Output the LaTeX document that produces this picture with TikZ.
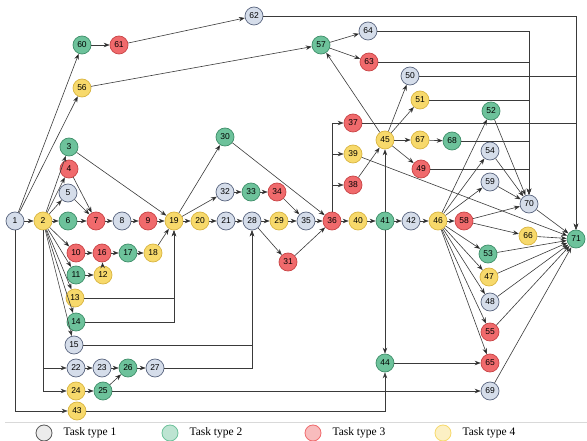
\documentclass[tikz,border=0pt]{standalone}
\usepackage{fontspec}
\setmainfont{Liberation Serif}
\setsansfont{Liberation Sans}
\usepackage{xcolor}
\definecolor{tone}{HTML}{D5DDEA}
\definecolor{tonedraw}{HTML}{5B6680}
\definecolor{ttwo}{HTML}{6DC29B}
\definecolor{ttwodraw}{HTML}{3F8F6A}
\definecolor{tthree}{HTML}{F06A6C}
\definecolor{tthreedraw}{HTML}{C94446}
\definecolor{tfour}{HTML}{F7D96B}
\definecolor{tfourdraw}{HTML}{D9B541}
\definecolor{wire}{HTML}{3A3A3A}
\usetikzlibrary{arrows.meta}

\begin{document}
\begin{tikzpicture}[x=1pt,y=-1pt,font=\sffamily,
  task/.style={circle,minimum size=18pt,inner sep=0pt,line width=0.7pt,
    font=\sffamily\fontsize{8.5}{9}\selectfont},
  tkone/.style={task,fill=tone,draw=tonedraw},
  tktwo/.style={task,fill=ttwo,draw=ttwodraw},
  tkthree/.style={task,fill=tthree,draw=tthreedraw},
  tkfour/.style={task,fill=tfour,draw=tfourdraw},
  arr/.style={draw=wire,line width=0.6pt,-{Stealth[length=6pt,width=4.5pt]}},
  keydot/.style={circle,minimum size=16pt,inner sep=0pt,line width=0.8pt},
  keytext/.style={anchor=west,font=\rmfamily\fontsize{11.5}{12}\selectfont}]
  \useasboundingbox (0,0) rectangle (587,441);
  % Tasks, coloured by type.
  \node[tkone]   (t1)  at (15,221)  {1};
  \node[tkfour]  (t2)  at (43,221)  {2};
  \node[tktwo]   (t3)  at (69,147)  {3};
  \node[tkthree] (t4)  at (69,169)  {4};
  \node[tkone]   (t5)  at (68,193)  {5};
  \node[tktwo]   (t6)  at (68,221)  {6};
  \node[tkthree] (t7)  at (96,221)  {7};
  \node[tkone]   (t8)  at (122,221) {8};
  \node[tkthree] (t9)  at (148,221) {9};
  \node[tkthree] (t10) at (76,253)  {10};
  \node[tktwo]   (t11) at (76,275)  {11};
  \node[tkfour]  (t12) at (103,275) {12};
  \node[tkfour]  (t13) at (75,298)  {13};
  \node[tktwo]   (t14) at (76,322)  {14};
  \node[tkone]   (t15) at (74,345)  {15};
  \node[tkthree] (t16) at (102,253) {16};
  \node[tktwo]   (t17) at (128,253) {17};
  \node[tkfour]  (t18) at (153,253) {18};
  \node[tkfour]  (t19) at (174,221) {19};
  \node[tkfour]  (t20) at (200,221) {20};
  \node[tkone]   (t21) at (226,221) {21};
  \node[tkone]   (t22) at (76,368)  {22};
  \node[tkone]   (t23) at (102,368) {23};
  \node[tkfour]  (t24) at (76,391)  {24};
  \node[tktwo]   (t25) at (103,391) {25};
  \node[tktwo]   (t26) at (128,368) {26};
  \node[tkone]   (t27) at (155,368) {27};
  \node[tkone]   (t28) at (252,221) {28};
  \node[tkfour]  (t29) at (279,221) {29};
  \node[tktwo]   (t30) at (225,137) {30};
  \node[tkthree] (t31) at (288,262) {31};
  \node[tkone]   (t32) at (225,192) {32};
  \node[tktwo]   (t33) at (251,192) {33};
  \node[tkthree] (t34) at (277,192) {34};
  \node[tkone]   (t35) at (306,221) {35};
  \node[tkthree] (t36) at (332,221) {36};
  \node[tkthree] (t37) at (353,123) {37};
  \node[tkthree] (t38) at (353,185) {38};
  \node[tkfour]  (t39) at (353,154) {39};
  \node[tkfour]  (t40) at (358,221) {40};
  \node[tktwo]   (t41) at (385,221) {41};
  \node[tkone]   (t42) at (411,221) {42};
  \node[tkfour]  (t43) at (77,411)  {43};
  \node[tktwo]   (t44) at (385,363) {44};
  \node[tkfour]  (t45) at (385,140) {45};
  \node[tkfour]  (t46) at (438,221) {46};
  \node[tkfour]  (t47) at (489,277) {47};
  \node[tkone]   (t48) at (490,302) {48};
  \node[tkthree] (t49) at (421,169) {49};
  \node[tkone]   (t50) at (410,76)  {50};
  \node[tkfour]  (t51) at (420,100) {51};
  \node[tktwo]   (t52) at (491,111) {52};
  \node[tktwo]   (t53) at (488,254) {53};
  \node[tkone]   (t54) at (490,151) {54};
  \node[tkthree] (t55) at (490,332) {55};
  \node[tkfour]  (t56) at (82,88)   {56};
  \node[tktwo]   (t57) at (321,45)  {57};
  \node[tkthree] (t58) at (464,221) {58};
  \node[tkone]   (t59) at (490,182) {59};
  \node[tktwo]   (t60) at (82,45)   {60};
  \node[tkthree] (t61) at (119,45)  {61};
  \node[tkone]   (t62) at (254,16)  {62};
  \node[tkthree] (t63) at (369,62)  {63};
  \node[tkone]   (t64) at (368,31)  {64};
  \node[tkthree] (t65) at (490,363) {65};
  \node[tkfour]  (t66) at (528,236) {66};
  \node[tkfour]  (t67) at (420,140) {67};
  \node[tktwo]   (t68) at (452,141) {68};
  \node[tkone]   (t69) at (490,391) {69};
  \node[tkone]   (t70) at (529,204) {70};
  \node[tktwo]   (t71) at (576,239) {71};
  % Straight precedence links.
  \draw[arr] (t1) edge (t2) edge (t60) edge (t56);
  \draw[arr] (t2) edge (t3) edge (t4) edge (t5) edge (t6) edge (t10)
    edge (t11) edge (t13) edge (t14) edge (t15);
  \draw[arr] (t3) edge (t19);
  \draw[arr] (t4) edge (t7);
  \draw[arr] (t5) edge (t7);
  \draw[arr] (t6) edge (t7);
  \draw[arr] (t7) edge (t8);
  \draw[arr] (t8) edge (t9);
  \draw[arr] (t9) edge (t19);
  \draw[arr] (t10) edge (t16);
  \draw[arr] (t11) edge (t12);
  \draw[arr] (t12) edge (t16);
  \draw[arr] (t16) edge (t17);
  \draw[arr] (t17) edge (t18);
  \draw[arr] (t18) edge (t19);
  \draw[arr] (t22) edge (t23);
  \draw[arr] (t23) edge (t26);
  \draw[arr] (t24) edge (t25);
  \draw[arr] (t25) edge (t26) edge (t69);
  \draw[arr] (t26) edge (t27);
  \draw[arr] (t19) edge (t20) edge (t30) edge (t32);
  \draw[arr] (t20) edge (t21);
  \draw[arr] (t21) edge (t28);
  \draw[arr] (t28) edge (t29) edge (t31);
  \draw[arr] (t29) edge (t35);
  \draw[arr] (t32) edge (t33);
  \draw[arr] (t33) edge (t34);
  \draw[arr] (t34) edge (t35);
  \draw[arr] (t30) edge (t36);
  \draw[arr] (t35) edge (t36);
  \draw[arr] (t31) edge (t36);
  \draw[arr] (t36) edge (t40);
  \draw[arr] (t40) edge (t41);
  \draw[arr] (t41) edge (t42) edge (t44) edge (t45);
  \draw[arr] (t42) edge (t46);
  \draw[arr] (t38) edge (t45);
  \draw[arr] (t39) edge (t71);
  \draw[arr] (t45) edge (t57) edge (t50) edge (t51) edge (t67) edge (t49);
  \draw[arr] (t67) edge (t68);
  \draw[arr] (t60) edge (t61);
  \draw[arr] (t61) edge (t62);
  \draw[arr] (t56) edge (t57);
  \draw[arr] (t57) edge (t64) edge (t63);
  \draw[arr] (t46) edge (t52) edge (t54) edge (t59) edge (t58) edge (t53)
    edge (t47) edge (t48) edge (t55) edge (t65);
  \draw[arr] (t52) edge (t70);
  \draw[arr] (t54) edge (t70);
  \draw[arr] (t59) edge (t70);
  \draw[arr] (t58) edge (t70) edge (t66);
  \draw[arr] (t44) edge (t65);
  \draw[arr] (t70) edge (t71);
  \draw[arr] (t66) edge (t71);
  \draw[arr] (t53) edge (t71);
  \draw[arr] (t47) edge (t71);
  \draw[arr] (t48) edge (t71);
  \draw[arr] (t55) edge (t71);
  \draw[arr] (t69) edge (t71);
  % Elbow links.
  \draw[arr] (t1) |- (t43);
  \draw[arr] (t2) |- (t22);
  \draw[arr] (t2) |- (t24);
  \draw[arr] (t13) -| (t19);
  \draw[arr] (t14) -| (t19);
  \draw[arr] (t15) -| (t28);
  \draw[arr] (t27) -| (t28);
  \draw[arr] (t43) -| (t44);
  \draw[arr] (t36) |- (t37);
  \draw[arr] (t36) |- (t39);
  \draw[arr] (t36) |- (t38);
  \draw[arr] (t62) -| (t71);
  \draw[arr] (t50) -| (t71);
  \draw[arr] (t37) -| (t71);
  \draw[arr] (t64) -| (t70);
  \draw[arr] (t63) -| (t70);
  \draw[arr] (t51) -| (t70);
  \draw[arr] (t68) -| (t70);
  \draw[arr] (t49) -| (t70);
  % Legend.
  \draw[gray!30,line width=0.5pt] (5,422) -- (587,422);
  \node[keydot,fill=gray!15,draw=gray!70!black] (k1) at (44,433) {};
  \node[keytext] (kt1) at (60,433) {Task type 1};
  \node[keydot,fill=ttwo!45,draw=ttwo] (k2) at (170,433) {};
  \node[keytext] (kt2) at (186,433) {Task type 2};
  \node[keydot,fill=tthree!45,draw=tthree] (k3) at (313,433) {};
  \node[keytext] (kt3) at (329,433) {Task type 3};
  \node[keydot,fill=tfour!40,draw=tfour] (k4) at (443,433) {};
  \node[keytext] (kt4) at (459,433) {Task type 4};
\end{tikzpicture}
\end{document}
